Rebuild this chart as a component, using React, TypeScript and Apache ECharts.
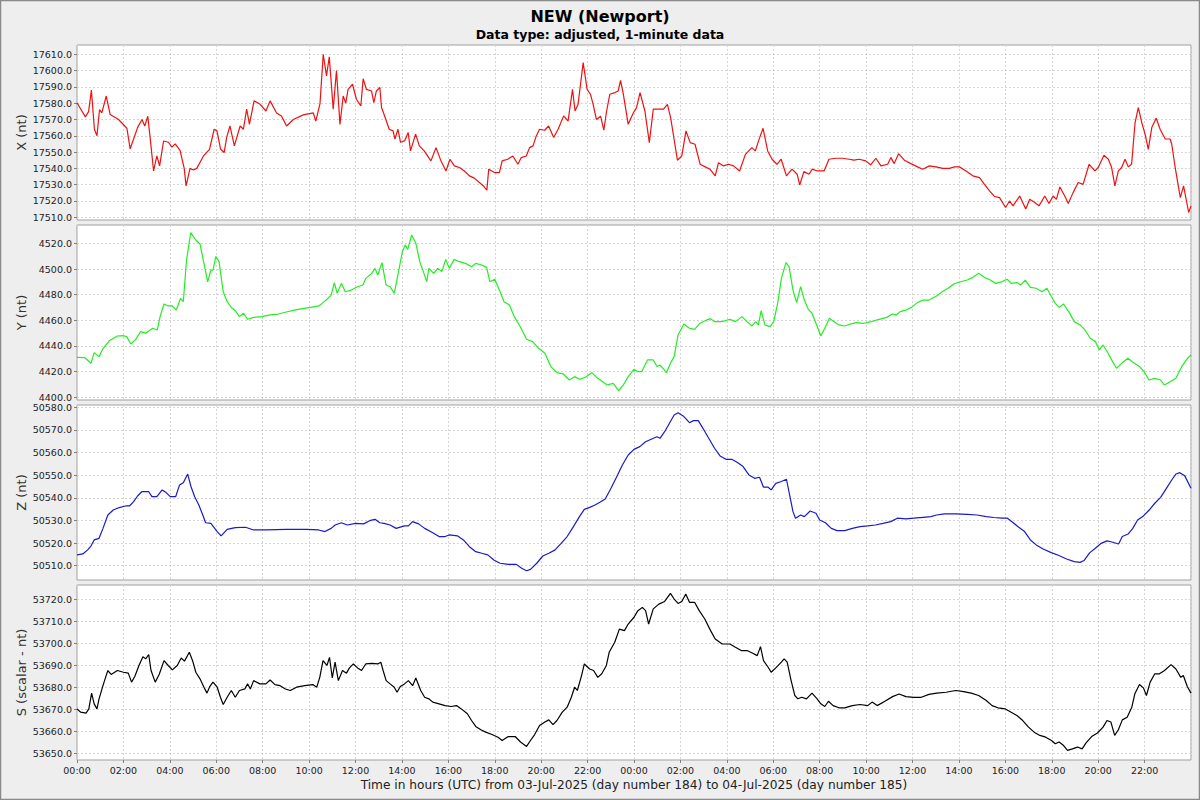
import React, { useEffect, useRef } from "react";
import * as echarts from "echarts";

// ---- Data (hours since 03-Jul-2025 00:00 UTC, values in nT) ----
const xHours = [0, 0.36, 0.5, 0.62, 0.75, 0.86, 0.97, 1.07, 1.26, 1.43, 1.79, 2.15, 2.29, 2.44, 2.61, 2.8, 2.92, 3.05, 3.15, 3.3, 3.44, 3.56, 3.73, 3.94, 4.09, 4.23, 4.44, 4.62, 4.7, 4.87, 5.02, 5.16, 5.45, 5.71, 5.91, 6.03, 6.19, 6.34, 6.45, 6.59, 6.78, 7.03, 7.17, 7.31, 7.43, 7.63, 7.89, 8.14, 8.32, 8.6, 8.82, 9.03, 9.32, 9.75, 10.18, 10.29, 10.47, 10.61, 10.75, 10.87, 11.04, 11.18, 11.33, 11.47, 11.58, 11.68, 11.87, 12.04, 12.23, 12.33, 12.47, 12.69, 12.79, 12.9, 13.05, 13.12, 13.26, 13.45, 13.62, 13.7, 13.83, 13.94, 14.12, 14.27, 14.37, 14.59, 14.75, 14.96, 15.25, 15.47, 15.68, 15.9, 16.07, 16.26, 16.48, 16.69, 16.91, 17.12, 17.34, 17.51, 17.66, 17.74, 17.99, 18.2, 18.32, 18.56, 18.78, 19.0, 19.14, 19.36, 19.5, 19.65, 19.79, 19.93, 20.15, 20.32, 20.54, 20.73, 20.97, 21.16, 21.35, 21.46, 21.59, 21.81, 21.98, 22.12, 22.24, 22.38, 22.56, 22.7, 22.82, 22.96, 23.18, 23.32, 23.42, 23.54, 23.75, 23.97, 24.11, 24.26, 24.47, 24.66, 24.83, 25.05, 25.27, 25.44, 25.58, 25.74, 25.87, 26.06, 26.24, 26.42, 26.63, 26.85, 27.07, 27.28, 27.5, 27.64, 27.86, 28.07, 28.29, 28.55, 28.8, 29.08, 29.23, 29.37, 29.56, 29.76, 29.95, 30.16, 30.34, 30.57, 30.81, 31.03, 31.14, 31.32, 31.54, 31.68, 31.9, 32.19, 32.4, 32.69, 32.98, 33.27, 33.48, 33.7, 33.99, 34.2, 34.42, 34.64, 34.93, 35.07, 35.21, 35.4, 35.65, 35.93, 36.22, 36.44, 36.73, 37.01, 37.3, 37.59, 37.81, 38.02, 38.31, 38.6, 38.89, 39.1, 39.32, 39.54, 39.75, 40.01, 40.18, 40.33, 40.62, 40.88, 41.05, 41.27, 41.45, 41.7, 41.88, 42.06, 42.2, 42.35, 42.56, 42.71, 42.92, 43.14, 43.35, 43.61, 43.86, 44.0, 44.25, 44.44, 44.58, 44.72, 44.87, 45.01, 45.16, 45.3, 45.44, 45.59, 45.73, 45.88, 46.02, 46.16, 46.31, 46.5, 46.67, 46.89, 47.1, 47.17, 47.32, 47.54, 47.68, 47.9, 48.0];
const xNt = [17580.3, 17571.6, 17574.8, 17588, 17564, 17560, 17576, 17574, 17584.4, 17573, 17570, 17564.6, 17552, 17558, 17565, 17570, 17566, 17572, 17559, 17538.4, 17547.6, 17541.5, 17556.8, 17556, 17553, 17555, 17551, 17540, 17529.2, 17540, 17539, 17540, 17547.6, 17551.7, 17564, 17563, 17551.7, 17549.7, 17559, 17566, 17553.8, 17566, 17564, 17576.3, 17567, 17581.4, 17579.3, 17575.2, 17581.4, 17574, 17572, 17566, 17570, 17572.8, 17574, 17569, 17579.7, 17610, 17596.7, 17608.4, 17576.3, 17600, 17567, 17584.4, 17580, 17588.5, 17591.6, 17582.4, 17578.3, 17595, 17588.5, 17587.5, 17580.3, 17587.5, 17589.6, 17577.3, 17572, 17564, 17563, 17558, 17564, 17556, 17557, 17562, 17550.7, 17561, 17553.8, 17550.7, 17544.6, 17552.7, 17544.6, 17538.4, 17545.6, 17541.5, 17540.5, 17538.4, 17535.4, 17534, 17531.3, 17529.2, 17526.6, 17539.5, 17537.4, 17537.4, 17544.6, 17545.6, 17547.6, 17542.5, 17546.6, 17547.6, 17552.7, 17553.8, 17559.9, 17564, 17563.4, 17566, 17558.9, 17564, 17572.2, 17569, 17588.5, 17575.2, 17579.3, 17604.9, 17588.5, 17585.5, 17579.3, 17570, 17572, 17563.4, 17575.2, 17585.5, 17586.5, 17587.5, 17594, 17585.5, 17567, 17574, 17577.3, 17586.5, 17575.2, 17555.8, 17576.3, 17576.3, 17576.3, 17579.3, 17571, 17556.8, 17545, 17547.6, 17563, 17555.8, 17554.8, 17542.5, 17540.9, 17539.4, 17535.4, 17543.5, 17541.5, 17542.5, 17541.5, 17538.4, 17548.6, 17552.7, 17550.7, 17557, 17564.6, 17550.7, 17545.6, 17542.5, 17545.6, 17535.4, 17539.5, 17536.4, 17529.8, 17538, 17536.4, 17539.5, 17538.4, 17538.4, 17545.6, 17546.2, 17546.2, 17545.6, 17545, 17545.6, 17544.6, 17542.1, 17546.2, 17541.5, 17542.5, 17546.6, 17542.9, 17549, 17545, 17542.9, 17540.9, 17539.4, 17541.5, 17540.9, 17540, 17540, 17540.9, 17540.9, 17538.4, 17535.4, 17534.3, 17530.2, 17526.2, 17522.7, 17522, 17516, 17520, 17517, 17523, 17515, 17521, 17519, 17517, 17523, 17518.4, 17523, 17521, 17528.6, 17523, 17518.4, 17525.1, 17531.3, 17530.2, 17542.5, 17538.4, 17540.5, 17548, 17545.6, 17540.5, 17529.2, 17538.4, 17540.5, 17545.6, 17540.9, 17542.5, 17568, 17577.3, 17568, 17561, 17551.7, 17565, 17570.7, 17564, 17558, 17558, 17554.8, 17540.5, 17522, 17529.2, 17512.9, 17517];

const yHours = [0, 0.33, 0.6, 0.74, 0.95, 1.12, 1.39, 1.74, 2.0, 2.14, 2.32, 2.53, 2.74, 2.96, 3.26, 3.46, 3.58, 3.75, 3.93, 4.1, 4.28, 4.46, 4.58, 4.72, 4.9, 5.12, 5.3, 5.47, 5.63, 5.77, 5.86, 5.98, 6.12, 6.3, 6.47, 6.65, 6.82, 7.0, 7.18, 7.35, 7.61, 7.96, 8.32, 8.67, 9.02, 9.37, 9.72, 10.07, 10.42, 10.6, 10.77, 10.95, 11.09, 11.21, 11.39, 11.56, 11.82, 12.09, 12.32, 12.44, 12.7, 12.84, 12.96, 13.14, 13.32, 13.49, 13.67, 13.84, 14.02, 14.14, 14.25, 14.42, 14.6, 14.77, 14.95, 15.07, 15.16, 15.37, 15.54, 15.72, 15.89, 16.04, 16.25, 16.47, 16.74, 17.0, 17.18, 17.44, 17.65, 17.79, 18.0, 18.23, 18.4, 18.63, 18.84, 19.1, 19.37, 19.63, 19.89, 20.16, 20.42, 20.68, 20.95, 21.21, 21.44, 21.65, 21.91, 22.18, 22.44, 22.85, 23.1, 23.34, 23.54, 23.75, 24.0, 24.17, 24.33, 24.58, 24.83, 24.99, 25.12, 25.25, 25.4, 25.57, 25.73, 25.9, 26.15, 26.39, 26.61, 26.84, 27.14, 27.3, 27.47, 27.8, 28.13, 28.37, 28.65, 28.87, 29.08, 29.25, 29.36, 29.48, 29.64, 29.86, 30.02, 30.19, 30.35, 30.55, 30.68, 30.85, 31.01, 31.18, 31.34, 31.51, 31.67, 31.84, 32.05, 32.22, 32.42, 32.61, 32.83, 33.08, 33.32, 33.57, 33.9, 34.23, 34.56, 34.89, 35.14, 35.3, 35.47, 35.72, 35.96, 36.21, 36.46, 36.71, 37.04, 37.28, 37.53, 37.78, 38.03, 38.36, 38.6, 38.85, 39.1, 39.35, 39.59, 39.84, 40.08, 40.25, 40.5, 40.66, 40.86, 41.08, 41.33, 41.58, 41.79, 41.99, 42.15, 42.32, 42.51, 42.73, 42.97, 43.22, 43.43, 43.66, 43.88, 44.05, 44.21, 44.43, 44.62, 44.79, 45.04, 45.28, 45.53, 45.78, 45.98, 46.19, 46.44, 46.69, 46.85, 47.1, 47.35, 47.6, 47.85, 48.0];
const yNt = [4431.2, 4431, 4426.5, 4434.8, 4431.7, 4438, 4444, 4447.8, 4448, 4447.3, 4441.6, 4445.2, 4451.2, 4450, 4453.8, 4452.5, 4462.9, 4472.7, 4471.2, 4471.2, 4468, 4477.1, 4474.5, 4507, 4528.3, 4522.6, 4519.5, 4504.4, 4490, 4499.2, 4499.2, 4509.6, 4505.7, 4482.3, 4474.5, 4470, 4467.5, 4462.9, 4465.5, 4460.8, 4462.3, 4462.9, 4464.2, 4464.9, 4466.5, 4468, 4469.1, 4470.1, 4471.2, 4473.8, 4476.4, 4479.7, 4489.4, 4481, 4488.8, 4482.3, 4483.6, 4486.2, 4487.5, 4492.7, 4496.6, 4500.5, 4495.3, 4505, 4487.5, 4486.2, 4481, 4496.6, 4513.5, 4518.7, 4515.3, 4526.5, 4520, 4505.7, 4496.6, 4490, 4500.5, 4496.6, 4500.5, 4498, 4507.5, 4500.5, 4507.5, 4505.7, 4504.4, 4501.8, 4504.4, 4503.1, 4501.3, 4490, 4492, 4482.3, 4474.5, 4472, 4462.9, 4455, 4445.2, 4443.4, 4438.2, 4434.3, 4423.9, 4419.2, 4418.2, 4413.5, 4416.1, 4414, 4415.6, 4419.2, 4414.8, 4409.6, 4410.9, 4405.2, 4409.6, 4416.1, 4421.8, 4420, 4420, 4429.1, 4429.1, 4424, 4425.2, 4422.6, 4419.2, 4426.5, 4431.7, 4448.6, 4457.1, 4453.8, 4453, 4457.7, 4460.3, 4461.3, 4459, 4459, 4460.8, 4459, 4462.9, 4459, 4455.6, 4459, 4456.4, 4467.5, 4456.4, 4455.1, 4459, 4473.2, 4492.7, 4505, 4501.8, 4483.6, 4473.8, 4486.2, 4475.8, 4468.6, 4465.5, 4457.7, 4447.8, 4453.8, 4461.6, 4459, 4456.4, 4455.6, 4457.1, 4458.2, 4457.7, 4459, 4460.8, 4462.3, 4464.9, 4464.2, 4466.8, 4468, 4470.1, 4473.8, 4475.8, 4475.8, 4479, 4482.3, 4485, 4488.3, 4489.9, 4491.4, 4493.5, 4496.6, 4493.5, 4491.4, 4488.8, 4490, 4492, 4488.8, 4489.4, 4487.5, 4491.4, 4485.7, 4485, 4482.3, 4485, 4478.4, 4473.2, 4470.1, 4472.7, 4466.8, 4459, 4456.4, 4452.5, 4446, 4443.4, 4436.9, 4440.8, 4434.3, 4427.8, 4422.6, 4427, 4430.4, 4427, 4424, 4420, 4413.5, 4414.8, 4413.5, 4409.6, 4412.2, 4414.8, 4423.9, 4430.4, 4433];

const zHours = [0, 0.25, 0.46, 0.6, 0.74, 0.95, 1.12, 1.33, 1.56, 1.82, 2.09, 2.26, 2.44, 2.61, 2.79, 3.09, 3.23, 3.44, 3.67, 3.84, 4.02, 4.25, 4.42, 4.58, 4.77, 4.91, 5.07, 5.25, 5.42, 5.54, 5.77, 6.04, 6.21, 6.47, 6.82, 7.26, 7.61, 8.14, 9.02, 9.89, 10.42, 10.68, 10.95, 11.12, 11.39, 11.65, 12.0, 12.35, 12.61, 12.84, 13.05, 13.23, 13.49, 13.75, 14.11, 14.28, 14.46, 14.72, 14.98, 15.33, 15.6, 15.86, 16.04, 16.39, 16.65, 16.91, 17.18, 17.44, 17.7, 17.96, 18.23, 18.58, 18.93, 19.16, 19.37, 19.54, 19.81, 20.07, 20.33, 20.6, 20.86, 21.12, 21.39, 21.65, 21.86, 22.09, 22.32, 22.53, 22.76, 23.01, 23.26, 23.5, 23.75, 24.0, 24.25, 24.5, 24.74, 24.99, 25.12, 25.32, 25.57, 25.73, 25.9, 26.15, 26.39, 26.56, 26.77, 26.97, 27.22, 27.47, 27.71, 27.96, 28.21, 28.46, 28.7, 28.95, 29.2, 29.41, 29.58, 29.78, 29.91, 30.11, 30.35, 30.57, 30.72, 30.85, 30.96, 31.18, 31.34, 31.59, 31.84, 32.0, 32.25, 32.5, 32.75, 33.08, 33.41, 33.74, 34.07, 34.4, 34.73, 35.06, 35.35, 35.72, 36.05, 36.46, 36.79, 37.04, 37.37, 37.87, 38.36, 38.78, 39.18, 39.51, 39.84, 40.09, 40.34, 40.58, 40.83, 41.08, 41.33, 41.65, 41.98, 42.31, 42.64, 42.97, 43.22, 43.39, 43.64, 43.88, 44.13, 44.38, 44.55, 44.88, 45.04, 45.29, 45.49, 45.7, 45.95, 46.2, 46.44, 46.69, 46.94, 47.19, 47.35, 47.52, 47.73, 48.0];
const zNt = [50514.8, 50515.2, 50517, 50518.7, 50521.4, 50522.1, 50526.5, 50532.4, 50534.6, 50535.7, 50536.4, 50536.4, 50538.3, 50540.8, 50542.7, 50542.7, 50540.5, 50540.5, 50543.5, 50542.3, 50540.5, 50540.5, 50545.7, 50546.7, 50550.5, 50545, 50540.5, 50536.8, 50532.4, 50529, 50528.7, 50525.1, 50523.2, 50526.1, 50526.8, 50527, 50525.8, 50525.8, 50526.1, 50526.1, 50525.8, 50525.1, 50526.5, 50528, 50529, 50528, 50528.7, 50528.5, 50529.9, 50530.5, 50529, 50528.7, 50528, 50526.5, 50527.6, 50527.6, 50529.5, 50528.5, 50526.5, 50524.6, 50522.9, 50522.9, 50523.6, 50523.2, 50521.4, 50518.4, 50516.2, 50515.5, 50514.8, 50512.5, 50511.1, 50510.6, 50510.6, 50508.9, 50507.8, 50508.4, 50511.1, 50514.3, 50515.5, 50517, 50519.9, 50522.9, 50527.3, 50531.7, 50534.9, 50535.8, 50536.8, 50538, 50539.5, 50544.2, 50549.4, 50554.5, 50558.9, 50561.4, 50562.6, 50564.8, 50565.9, 50567, 50566.3, 50569.2, 50573.7, 50576.6, 50577.6, 50575.9, 50573.2, 50574.1, 50574.1, 50570.7, 50566.3, 50561.9, 50558.5, 50557, 50557, 50555.6, 50553.8, 50550.1, 50548.6, 50549.1, 50544.7, 50544.7, 50543.5, 50546.4, 50547.2, 50548.2, 50540.5, 50533.9, 50531, 50532.4, 50531.7, 50534.2, 50533.2, 50530.2, 50529, 50526.5, 50525.5, 50525.5, 50526.5, 50527.3, 50527.6, 50528, 50528.7, 50529.5, 50531, 50530.7, 50531, 50531.4, 50531.7, 50532.4, 50532.9, 50532.9, 50532.7, 50532.4, 50531.7, 50531.3, 50531, 50531, 50529, 50527, 50525.1, 50521.4, 50519.2, 50517.3, 50515.8, 50514.5, 50513, 50511.8, 50511.5, 50512.3, 50515.8, 50517.7, 50519.9, 50521, 50520.6, 50519.6, 50522.9, 50524, 50526.5, 50530.2, 50532, 50534.6, 50537.6, 50540.2, 50544.2, 50548.2, 50550.5, 50551.1, 50549.7, 50544.2];

const sHours = [0, 0.16, 0.39, 0.51, 0.63, 0.74, 0.86, 0.95, 1.09, 1.21, 1.33, 1.47, 1.74, 2.0, 2.21, 2.35, 2.49, 2.67, 2.84, 2.96, 3.09, 3.19, 3.37, 3.54, 3.75, 3.93, 4.11, 4.32, 4.49, 4.63, 4.84, 4.98, 5.12, 5.3, 5.47, 5.6, 5.72, 5.86, 6.04, 6.18, 6.3, 6.47, 6.65, 6.82, 7.0, 7.23, 7.35, 7.47, 7.61, 7.88, 8.14, 8.32, 8.53, 8.75, 8.98, 9.19, 9.46, 9.81, 10.16, 10.33, 10.46, 10.6, 10.77, 10.88, 11.0, 11.12, 11.26, 11.44, 11.61, 11.74, 11.91, 12.09, 12.26, 12.44, 12.7, 12.96, 13.09, 13.19, 13.32, 13.49, 13.67, 13.79, 13.93, 14.11, 14.28, 14.46, 14.6, 14.81, 14.98, 15.16, 15.33, 15.6, 15.86, 16.12, 16.35, 16.56, 16.82, 17.0, 17.18, 17.4, 17.61, 17.88, 18.14, 18.32, 18.58, 18.88, 19.11, 19.37, 19.54, 19.72, 19.93, 20.16, 20.33, 20.51, 20.68, 20.91, 21.12, 21.3, 21.44, 21.56, 21.74, 21.86, 22.09, 22.26, 22.44, 22.61, 22.81, 22.93, 23.17, 23.37, 23.59, 23.75, 24.0, 24.17, 24.36, 24.5, 24.63, 24.83, 25.07, 25.32, 25.57, 25.73, 25.9, 26.06, 26.23, 26.39, 26.61, 26.81, 27.05, 27.3, 27.5, 27.8, 28.13, 28.37, 28.62, 28.87, 29.12, 29.31, 29.45, 29.58, 29.78, 29.91, 30.11, 30.35, 30.47, 30.6, 30.77, 30.93, 31.06, 31.23, 31.43, 31.67, 31.89, 32.05, 32.22, 32.38, 32.58, 32.83, 33.08, 33.41, 33.74, 34.07, 34.26, 34.48, 34.81, 35.14, 35.42, 35.72, 36.05, 36.38, 36.71, 37.04, 37.45, 37.86, 38.2, 38.53, 38.85, 39.18, 39.43, 39.68, 40.0, 40.25, 40.5, 40.75, 41.0, 41.24, 41.49, 41.74, 41.99, 42.15, 42.32, 42.51, 42.68, 42.89, 43.11, 43.31, 43.47, 43.72, 43.97, 44.21, 44.38, 44.55, 44.71, 44.87, 45.04, 45.25, 45.45, 45.58, 45.78, 45.95, 46.08, 46.24, 46.44, 46.64, 46.86, 47.14, 47.35, 47.56, 47.67, 47.84, 48.0];
const sNt = [53670.2, 53668.7, 53668.3, 53670.2, 53677.4, 53672.5, 53670.2, 53674.8, 53679.8, 53683.9, 53687.7, 53685.9, 53687.7, 53686.9, 53686.5, 53682.4, 53685, 53690, 53694, 53693, 53695, 53687.7, 53682.4, 53685.9, 53692.2, 53690, 53688, 53690, 53693.4, 53692, 53696, 53692.2, 53686.9, 53683.9, 53680.1, 53677.4, 53680.4, 53682.4, 53680.1, 53675.5, 53672.2, 53675.5, 53678.6, 53675.5, 53678.6, 53679.3, 53681.6, 53679.3, 53683.1, 53681.6, 53681.6, 53683.4, 53681.3, 53680.8, 53679.3, 53678.6, 53680.1, 53680.8, 53681.3, 53680.1, 53684.6, 53692.2, 53690, 53693.7, 53684.3, 53691.5, 53683.1, 53687.7, 53686.5, 53688.9, 53690.7, 53688.9, 53687.7, 53690.7, 53691, 53690.7, 53691.5, 53687.7, 53683.1, 53681.6, 53680.1, 53677.8, 53680.4, 53681.6, 53683.1, 53680.8, 53684.3, 53678.6, 53675.5, 53674.8, 53673.3, 53672.5, 53671.7, 53671.3, 53671.7, 53670.2, 53668, 53664.9, 53662.2, 53660.7, 53659.6, 53658.5, 53657.3, 53655.8, 53657.6, 53657.6, 53655.1, 53653.1, 53655.8, 53658.5, 53662.6, 53664.2, 53665.2, 53663, 53664.9, 53668.7, 53671, 53675.5, 53680.1, 53678.6, 53685.4, 53690.7, 53688.4, 53687.7, 53684.6, 53686.2, 53690, 53696, 53700.6, 53706.6, 53705.9, 53708.9, 53712, 53715, 53716.5, 53715, 53708.9, 53715.8, 53718, 53719.2, 53722.9, 53720.3, 53718.3, 53719.2, 53722.6, 53718.8, 53718.8, 53715, 53711.2, 53705.9, 53702.1, 53699.8, 53699.8, 53698.3, 53696.8, 53696.8, 53695.6, 53694.5, 53698.6, 53692.2, 53689.2, 53686.9, 53688.9, 53691.5, 53693, 53691.5, 53683.1, 53676.3, 53674.8, 53675.5, 53674.8, 53677.4, 53674.8, 53672.5, 53671.3, 53673.7, 53671.7, 53670.7, 53670.7, 53671.7, 53672.2, 53671.7, 53673.3, 53671.7, 53673.7, 53675.8, 53677, 53675.8, 53675.5, 53675.5, 53676.8, 53677.4, 53677.8, 53678.6, 53678.1, 53677.4, 53676.3, 53674, 53671.7, 53670.7, 53670.2, 53668.7, 53667.2, 53664.9, 53661.9, 53659.6, 53658.1, 53657.3, 53655.8, 53654.3, 53655.1, 53653.5, 53651.3, 53652, 53652.8, 53652, 53654.6, 53657.6, 53659.2, 53661.9, 53664.9, 53664.2, 53658.1, 53660.7, 53665.2, 53666.4, 53671, 53677.1, 53681.3, 53679.8, 53676.3, 53682.4, 53686.2, 53686.2, 53687.7, 53690.4, 53688.4, 53684.6, 53685.4, 53680.4, 53677.4];

// Tick values per panel
const xTicks = [17510, 17520, 17530, 17540, 17550, 17560, 17570, 17580, 17590, 17600, 17610];
const yTicks = [4400, 4420, 4440, 4460, 4480, 4500, 4520];
const zTicks = [50510, 50520, 50530, 50540, 50550, 50560, 50570, 50580];
const sTicks = [53650, 53660, 53670, 53680, 53690, 53700, 53710, 53720];

const panelNames = ["X (nt)", "Y (nt)", "Z (nt)", "S (scalar - nt)"];
const panelColors = ["#ee1111", "#22ee22", "#1a1acc", "#000000"];
const panelRanges = [
  [17508.3, 17615.7],
  [4397.9, 4534.3],
  [50503.7, 50581.0],
  [53646.9, 53726.7],
];

const TITLE = "NEW (Newport)";
const SUBTITLE = "Data type: adjusted, 1-minute data";
const XAXIS_TITLE =
  "Time in hours (UTC) from 03-Jul-2025 (day number 184) to 04-Jul-2025 (day number 185)";

const FONT = "DejaVu Sans";

export default function App() {
  const ref = useRef<HTMLDivElement>(null);

  useEffect(() => {
    if (!ref.current) return;
    const chart = echarts.init(ref.current, undefined, { renderer: "svg" });

    const hoursList = [xHours, yHours, zHours, sHours];
    const valuesList = [xNt, yNt, zNt, sNt];
    const ticksList = [xTicks, yTicks, zTicks, sTicks];
    const tops = [45, 225, 405, 585];

    const grids = tops.map((top) => ({
      left: 77,
      top,
      width: 1114,
      height: 175,
      show: true,
      backgroundColor: "#ffffff",
      borderColor: "#a0a0a0",
      borderWidth: 1,
    }));

    const xAxes = tops.map((_, i) => {
      const isBottom = i === 3;
      return {
        type: "value",
        gridIndex: i,
        min: 0,
        max: 48,
        interval: 2,
        axisLine: { show: false },
        axisTick: {
          show: isBottom,
          length: 3,
          lineStyle: { color: "#808080" },
        },
        axisLabel: {
          show: isBottom,
          fontFamily: FONT,
          fontSize: 9.5,
          color: "#222",
          margin: 5,
          showMaxLabel: false,
          formatter: (v: number) => {
            if (v >= 48) return "";
            const h = Math.round(v) % 24;
            return (h < 10 ? "0" : "") + h + ":00";
          },
        },
        splitLine: {
          show: true,
          lineStyle: { color: "#d4d4d4", type: [2, 2], width: 1 },
        },
        name: isBottom ? XAXIS_TITLE : "",
        nameLocation: "middle",
        nameGap: 19,
        nameMoveOverlap: false,
        nameTextStyle: { fontFamily: FONT, fontSize: 12.2, color: "#222" },
      };
    });

    const yAxes = tops.map((_, i) => ({
      type: "value",
      gridIndex: i,
      min: panelRanges[i][0],
      max: panelRanges[i][1],
      axisLine: { show: false },
      axisTick: {
        show: true,
        length: 3,
        customValues: ticksList[i],
        lineStyle: { color: "#808080" },
      },
      axisLabel: {
        customValues: ticksList[i],
        fontFamily: FONT,
        fontSize: 9.5,
        color: "#222",
        margin: 5,
        formatter: (v: number) => v.toFixed(1),
      },
      splitLine: {
        show: true,
        lineStyle: { color: "#d4d4d4", type: [2, 2], width: 1 },
      },
      name: panelNames[i],
      nameLocation: "middle",
      nameGap: 49,
      nameMoveOverlap: false,
      nameTextStyle: { fontFamily: FONT, fontSize: 13, color: "#333" },
    }));

    const series = tops.map((_, i) => ({
      type: "line",
      xAxisIndex: i,
      yAxisIndex: i,
      showSymbol: false,
      symbol: "none",
      data: hoursList[i].map((t, k) => [t, valuesList[i][k]]),
      lineStyle: { color: panelColors[i], width: 1.2 },
      itemStyle: { color: panelColors[i] },
    }));

    chart.setOption({
      animation: false,
      backgroundColor: "#eeeeee",
      title: [
        {
          text: TITLE,
          left: "center",
          top: 3,
          textStyle: {
            fontFamily: FONT,
            fontSize: 16,
            fontWeight: "bold",
            color: "#000",
          },
        },
        {
          text: SUBTITLE,
          left: "center",
          top: 23,
          textStyle: {
            fontFamily: FONT,
            fontSize: 12.5,
            fontWeight: "bold",
            color: "#000",
          },
        },
      ],
      graphic: [
        {
          type: "rect",
          shape: { x: 0.5, y: 0.5, width: 1199, height: 799 },
          style: { fill: "none", stroke: "#8a8a8a", lineWidth: 1.5 },
          silent: true,
          z: 100,
        },
      ],
      grid: grids,
      xAxis: xAxes,
      yAxis: yAxes,
      series,
    });

    return () => {
      chart.dispose();
    };
  }, []);

  return (
    <div
      ref={ref}
      style={{
        position: "absolute",
        left: 0,
        top: 0,
        width: 1200,
        height: 800,
      }}
    />
  );
}
